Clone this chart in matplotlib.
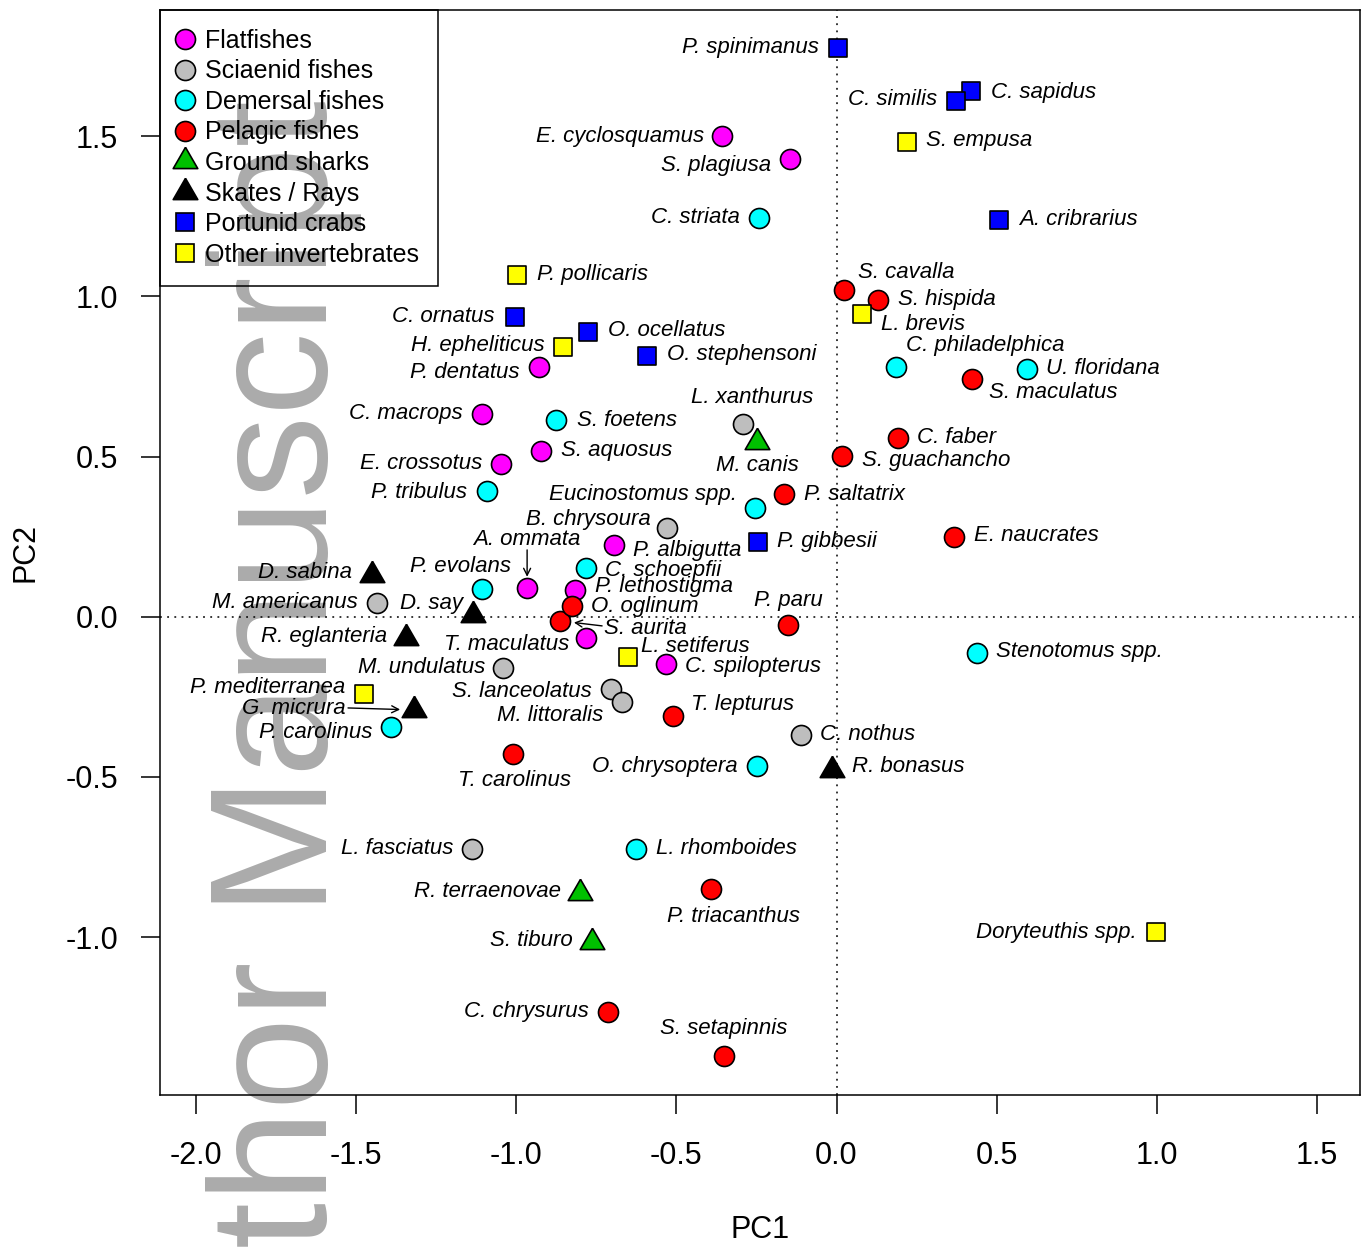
import matplotlib
matplotlib.use('Agg')
import matplotlib.pyplot as plt
from matplotlib.lines import Line2D

plt.rcParams['font.family'] = ['Liberation Sans', 'DejaVu Sans']
plt.rcParams['axes.unicode_minus'] = False

# ---------------- data ----------------
flat_names = ['E. cyclosquamus', 'S. plagiusa', 'P. dentatus', 'C. macrops', 'S. aquosus',
              'E. crossotus', 'P. albigutta', 'A. ommata', 'P. lethostigma', 'T. maculatus',
              'C. spilopterus']
flat_pc1 = [-0.357, -0.145, -0.929, -1.107, -0.923, -1.047, -0.695, -0.966, -0.816, -0.782, -0.532]
flat_pc2 = [1.500, 1.428, 0.780, 0.633, 0.518, 0.477, 0.224, 0.090, 0.084, -0.066, -0.147]

sciaenid_names = ['L. xanthurus', 'B. chrysoura', 'M. americanus', 'M. undulatus',
                  'S. lanceolatus', 'M. littoralis', 'C. nothus', 'L. fasciatus']
sciaenid_pc1 = [-0.292, -0.529, -1.435, -1.041, -0.704, -0.670, -0.111, -1.138]
sciaenid_pc2 = [0.602, 0.277, 0.043, -0.160, -0.225, -0.266, -0.369, -0.724]

demersal_names = ['C. striata', 'S. foetens', 'P. tribulus', 'Eucinostomus spp.', 'C. schoepfii',
                  'P. evolans', 'P. carolinus', 'O. chrysoptera', 'L. rhomboides',
                  'C. philadelphica', 'U. floridana', 'Stenotomus spp.']
demersal_pc1 = [-0.242, -0.876, -1.091, -0.254, -0.782, -1.107, -1.391, -0.248, -0.626, 0.186, 0.595, 0.439]
demersal_pc2 = [1.245, 0.614, 0.393, 0.340, 0.152, 0.087, -0.344, -0.466, -0.724, 0.780, 0.774, -0.113]

pelagic_names = ['S. cavalla', 'S. hispida', 'S. maculatus', 'C. faber', 'S. guachancho',
                 'P. saltatrix', 'E. naucrates', 'S. aurita', 'O. oglinum', 'P. paru',
                 'T. lepturus', 'T. carolinus', 'P. triacanthus', 'C. chrysurus', 'S. setapinnis']
pelagic_pc1 = [0.023, 0.130, 0.423, 0.192, 0.017, -0.164, 0.367, -0.863, -0.826, -0.151,
               -0.510, -1.010, -0.392, -0.713, -0.351]
pelagic_pc2 = [1.020, 0.989, 0.742, 0.558, 0.502, 0.383, 0.249, -0.013, 0.034, -0.026,
               -0.310, -0.428, -0.850, -1.234, -1.371]

shark_names = ['M. canis', 'R. terraenovae', 'S. tiburo']
shark_pc1 = [-0.248, -0.801, -0.763]
shark_pc2 = [0.546, -0.862, -1.015]

skate_names = ['D. sabina', 'D. say', 'R. eglanteria', 'G. micrura', 'R. bonasus']
skate_pc1 = [-1.451, -1.136, -1.344, -1.319, -0.014]
skate_pc2 = [0.131, 0.006, -0.066, -0.291, -0.478]

crab_names = ['P. spinimanus', 'C. sapidus', 'C. similis', 'A. cribrarius', 'C. ornatus',
              'O. ocellatus', 'O. stephensoni', 'P. gibbesii']
crab_pc1 = [0.005, 0.420, 0.373, 0.507, -1.004, -0.776, -0.592, -0.245]
crab_pc2 = [1.776, 1.641, 1.610, 1.237, 0.936, 0.889, 0.814, 0.234]

invert_names = ['S. empusa', 'P. pollicaris', 'H. epheliticus', 'L. brevis', 'L. setiferus',
                'P. mediterranea', 'Doryteuthis spp.']
invert_pc1 = [0.220, -0.997, -0.854, 0.080, -0.651, -1.475, 0.998]
invert_pc2 = [1.482, 1.067, 0.843, 0.945, -0.125, -0.241, -0.985]

group_labels = ['Flatfishes', 'Sciaenid fishes', 'Demersal fishes', 'Pelagic fishes',
                'Ground sharks', 'Skates / Rays', 'Portunid crabs', 'Other invertebrates']

xticks = [-2.0, -1.5, -1.0, -0.5, 0.0, 0.5, 1.0, 1.5]
xtick_labels = ['-2.0', '-1.5', '-1.0', '-0.5', '0.0', '0.5', '1.0', '1.5']
yticks = [-1.0, -0.5, 0.0, 0.5, 1.0, 1.5]
ytick_labels = ['-1.0', '-0.5', '0.0', '0.5', '1.0', '1.5']

# ---------------- styling / layout ----------------
tri = [(0, 1.555), (1.347, -0.778), (-1.347, -0.778), (0, 1.555)]
styles = [
    ('o', '#FF00FF', 14.4),
    ('o', '#BEBEBE', 14.4),
    ('o', '#00FFFF', 14.4),
    ('o', '#FF0000', 14.4),
    (tri, '#00C000', 20.4),
    (tri, '#000000', 20.4),
    ('s', '#0000FF', 13.2),
    ('s', '#FFFF00', 13.2),
]
groups = [
    (flat_names, flat_pc1, flat_pc2),
    (sciaenid_names, sciaenid_pc1, sciaenid_pc2),
    (demersal_names, demersal_pc1, demersal_pc2),
    (pelagic_names, pelagic_pc1, pelagic_pc2),
    (shark_names, shark_pc1, shark_pc2),
    (skate_names, skate_pc1, skate_pc2),
    (crab_names, crab_pc1, crab_pc2),
    (invert_names, invert_pc1, invert_pc2),
]

# label placement: (ha, dx, dy) in pixels relative to the point
label_pos = {
    'E. cyclosquamus': ('right', -18, 0), 'S. plagiusa': ('right', -19, -6),
    'P. dentatus': ('right', -19, -6), 'C. macrops': ('right', -19, 0),
    'S. aquosus': ('left', 20, 0), 'E. crossotus': ('right', -19, 0),
    'P. albigutta': ('left', 19, -6), 'A. ommata': ('center', 0, 48),
    'P. lethostigma': ('left', 20, 3), 'T. maculatus': ('right', -17, -7),
    'C. spilopterus': ('left', 19, -3),
    'L. xanthurus': ('center', 9, 26), 'B. chrysoura': ('right', -16, 8),
    'M. americanus': ('right', -19, 0), 'M. undulatus': ('right', -18, 0),
    'S. lanceolatus': ('right', -19, -3), 'M. littoralis': ('right', -19, -14),
    'C. nothus': ('left', 19, 0), 'L. fasciatus': ('right', -19, 0),
    'C. striata': ('right', -19, 0), 'S. foetens': ('left', 21, 0),
    'P. tribulus': ('right', -20, -2), 'Eucinostomus spp.': ('right', -18, 13),
    'C. schoepfii': ('left', 19, -2), 'P. evolans': ('right', 29, 22),
    'P. carolinus': ('right', -19, -6), 'O. chrysoptera': ('right', -19, 0),
    'L. rhomboides': ('left', 20, 0), 'C. philadelphica': ('left', 10, 21),
    'U. floridana': ('left', 19, 0), 'Stenotomus spp.': ('left', 19, 1),
    'S. cavalla': ('left', 14, 17), 'S. hispida': ('left', 20, 0),
    'S. maculatus': ('left', 17, -13), 'C. faber': ('left', 19, 0),
    'S. guachancho': ('left', 20, -5), 'P. saltatrix': ('left', 20, 0),
    'E. naucrates': ('left', 20, 1), 'O. oglinum': ('left', 19, -1),
    'S. aurita': ('left', 44, -8), 'P. paru': ('center', 0, 25),
    'T. lepturus': ('left', 18, 12), 'T. carolinus': ('center', 1, -27),
    'P. triacanthus': ('center', 23, -27), 'C. chrysurus': ('right', -19, 1),
    'S. setapinnis': ('center', 0, 27),
    'M. canis': ('center', 0, -24), 'R. terraenovae': ('right', -19, 1),
    'S. tiburo': ('right', -19, 1),
    'D. sabina': ('right', -20, 2), 'D. say': ('right', -10, 11),
    'R. eglanteria': ('right', -19, 1), 'G. micrura': ('right', -68, 1),
    'R. bonasus': ('left', 20, 3),
    'P. spinimanus': ('right', -19, 0), 'C. similis': ('right', -19, 1),
    'C. sapidus': ('left', 20, -1), 'A. cribrarius': ('left', 20, 1),
    'C. ornatus': ('right', -20, 0), 'O. ocellatus': ('left', 20, 1),
    'O. stephensoni': ('left', 20, 1), 'P. gibbesii': ('left', 19, 0),
    'S. empusa': ('left', 19, 1), 'P. pollicaris': ('left', 20, 0),
    'H. epheliticus': ('right', -18, 1), 'L. brevis': ('left', 19, -10),
    'L. setiferus': ('left', 13, 10), 'P. mediterranea': ('right', -19, 6),
    'Doryteuthis spp.': ('right', -20, 0),
}
# arrows: name -> (start dx, start dy, shrink at point [pt])
arrows = {'A. ommata': (0, 38, 8), 'S. aurita': (42, -5, 10), 'G. micrura': (-66, 2, 10)}

W, H = 1367, 1249
fig = plt.figure(figsize=(W / 100, H / 100), dpi=100)
L, R, T, B = 160, 1360, 10, 1095
ax = fig.add_axes([L / W, 1 - B / H, (R - L) / W, (B - T) / H])
ax.patch.set_facecolor('none')
ax.set_xlim(-2.112, 1.634)
ax.set_ylim(-1.493, 1.894)

# watermark (behind everything)
fig.text(0.2392, 0.3787, 'Author Manuscript', rotation=90, rotation_mode='anchor',
         ha='center', va='baseline', fontsize=120, color='#ababab', zorder=-1)

ax.axhline(0, color='black', lw=1.1, ls=(0, (1.2, 3.5)), zorder=1)
ax.axvline(0, color='black', lw=1.1, ls=(0, (1.2, 3.5)), zorder=1)

handles = []
for (names, xs, ys), (mk, col, ms), lab in zip(groups, styles, group_labels):
    ax.scatter(xs, ys, s=ms ** 2, marker=mk, facecolor=col, edgecolor='black',
               linewidths=1.2, zorder=3)
    handles.append(Line2D([], [], ls='', marker=mk, markersize=ms, markerfacecolor=col,
                          markeredgecolor='black', markeredgewidth=1.2, label=lab))
    for n, x, y in zip(names, xs, ys):
        ha, dx, dy = label_pos[n]
        ax.annotate(n, (x, y), xytext=(dx, dy), textcoords='offset pixels',
                    ha=ha, va='center', fontsize=16, style='italic', zorder=4)
        if n in arrows:
            sx, sy, sh = arrows[n]
            ax.annotate('', (x, y), xytext=(sx, sy), textcoords='offset pixels',
                        arrowprops=dict(arrowstyle='->,head_length=0.5,head_width=0.25',
                                        lw=1.0, color='black', shrinkA=0, shrinkB=sh),
                        zorder=4)

leg = ax.legend(handles=handles, loc='upper left', bbox_to_anchor=(0, 1),
                borderaxespad=0, frameon=True, fancybox=False, fontsize=18,
                handlelength=0.45, handletextpad=0.6, labelspacing=0.26,
                borderpad=0.76, framealpha=1)
leg.get_frame().set_facecolor('none')
leg.get_frame().set_edgecolor('black')
leg.get_frame().set_linewidth(1.1)
leg.set_zorder(5)

ax.set_xticks(xticks)
ax.set_xticklabels(xtick_labels)
ax.set_yticks(yticks)
ax.set_yticklabels(ytick_labels)
ax.tick_params(direction='out', length=14, width=1.1, labelsize=22)
ax.tick_params(axis='x', pad=19)
ax.tick_params(axis='y', pad=16)
for s in ax.spines.values():
    s.set_linewidth(1.1)

ax.set_xlabel('PC1', fontsize=22)
ax.set_ylabel('PC2', fontsize=22)
ax.xaxis.label.set_va('center')
ax.yaxis.label.set_va('center')
ax.xaxis.set_label_coords(0.5, -0.1244)
ax.yaxis.set_label_coords(-0.1125, 0.5)

fig.savefig('out.png', dpi=100)
